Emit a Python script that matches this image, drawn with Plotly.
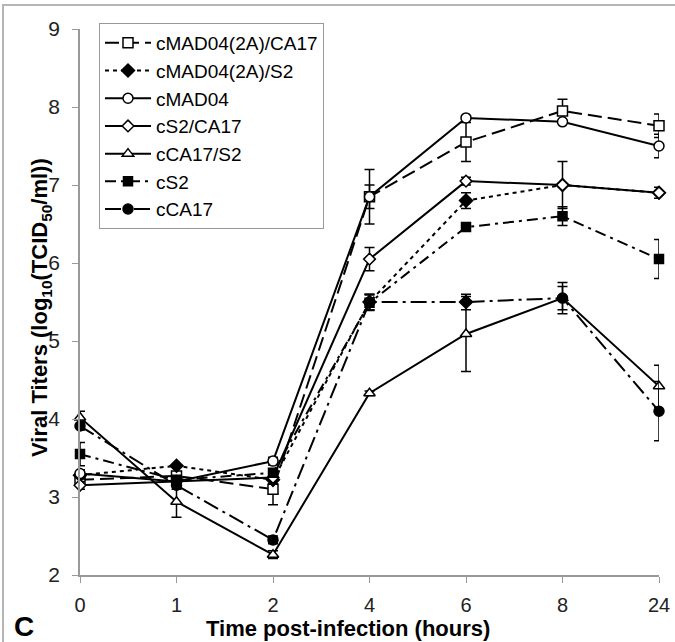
import plotly.graph_objects as go

times = ["0", "1", "2", "4", "6", "8", "24"]

names = ["cMAD04(2A)/CA17", "cMAD04(2A)/S2", "cMAD04", "cS2/CA17", "cCA17/S2", "cS2", "cCA17"]

mad2a_ca17 = [3.22, 3.27, 3.10, 6.85, 7.55, 7.95, 7.76]
mad2a_ca17_err = [0.05, 0.05, 0.20, 0.35, 0.25, 0.15, 0.15]

mad2a_s2 = [3.28, 3.40, 3.22, 5.50, 6.80, 7.00, 6.90]
mad2a_s2_err = [0.05, 0.0, 0.05, 0.10, 0.10, 0.0, 0.0]

mad04 = [3.30, 3.20, 3.46, 6.85, 7.86, 7.81, 7.50]
mad04_err = [0.05, 0.0, 0.05, 0.15, 0.0, 0.0, 0.15]

s2_ca17 = [3.15, 3.20, 3.25, 6.05, 7.05, 7.00, 6.90]
s2_ca17_err = [0.05, 0.0, 0.0, 0.15, 0.05, 0.30, 0.07]

ca17_s2 = [4.02, 2.94, 2.26, 4.33, 5.09, 5.55, 4.42]
ca17_s2_err = [0.08, 0.20, 0.05, 0.03, 0.48, 0.15, 0.27]

s2 = [3.55, 3.22, 3.31, 5.49, 6.46, 6.60, 6.05]
s2_err = [0.15, 0.05, 0.05, 0.10, 0.05, 0.12, 0.25]

ca17 = [3.91, 3.15, 2.45, 5.50, 5.50, 5.55, 4.10]
ca17_err = [0.05, 0.05, 0.05, 0.10, 0.10, 0.20, 0.38]

series = [mad2a_ca17, mad2a_s2, mad04, s2_ca17, ca17_s2, s2, ca17]
errors = [mad2a_ca17_err, mad2a_s2_err, mad04_err, s2_ca17_err, ca17_s2_err, s2_err, ca17_err]

styles = [
    dict(dash="14px,6px", symbol="square", fill="white", size=10),
    dict(dash="4px,4px", symbol="diamond", fill="black", size=10),
    dict(dash="solid", symbol="circle", fill="white", size=10),
    dict(dash="solid", symbol="diamond", fill="white", size=9),
    dict(dash="solid", symbol="triangle-up", fill="white", size=10),
    dict(dash="11px,5px,3px,5px", symbol="square", fill="black", size=9),
    dict(dash="16px,5px,3px,5px", symbol=["circle", "circle", "circle", "circle", "diamond", "circle", "circle"], fill="black", size=10),
]

fig = go.Figure()
for i, (name, ys, es, st) in enumerate(zip(names, series, errors, styles)):
    fig.add_trace(go.Scatter(
        x=times, y=ys, name=name, mode="lines+markers",
        legendgroup="g%d" % i,
        line=dict(color="black", width=2, dash=st["dash"]),
        marker=dict(symbol=st["symbol"], size=st["size"], color=st["fill"],
                    line=dict(color="black", width=1.5)),
        error_y=dict(type="data", array=es, visible=True, color="black", thickness=1.5, width=5),
        cliponaxis=False,
    ))

PW, PH = 579.0, 546.0   # plot area size in px (x 80..659, y 29..575)

def px(xw):
    return (xw - 80) / PW

def py(yw):
    return (575 - yw) / PH

fig.update_layout(
    width=675, height=642,
    margin=dict(l=80, r=16, t=29, b=67, autoexpand=False),
    paper_bgcolor="white", plot_bgcolor="white",
    font=dict(family="Liberation Sans, Arial, sans-serif", color="black", size=18),
    showlegend=True,
    legend=dict(
        x=px(99), y=py(23), xanchor="left", yanchor="top",
        bordercolor="#999999", borderwidth=1, bgcolor="white",
        font=dict(size=19), tracegroupgap=0, itemwidth=46,
    ),
    xaxis=dict(
        type="category", range=[0, 6], showgrid=False, zeroline=False,
        showline=True, linecolor="#999999", linewidth=1.5,
        ticks="outside", ticklen=6, tickcolor="#999999",
        tickfont=dict(size=20, color="#222"), ticklabelstandoff=5,
        automargin=False,
    ),
    yaxis=dict(
        range=[2, 9], dtick=1, showgrid=False, zeroline=False,
        showline=True, linecolor="#999999", linewidth=1.5,
        ticks="outside", ticklen=6, tickcolor="#999999",
        tickfont=dict(size=21, color="#222"), ticklabelstandoff=8,
        automargin=False,
    ),
    shapes=[dict(type="rect", xref="paper", yref="paper",
                 x0=px(3), x1=px(720), y0=py(720), y1=py(5),
                 line=dict(color="#b5b5b5", width=2), layer="below")],
    annotations=[
        dict(text="<b>C</b>", xref="paper", yref="paper", x=px(24), y=py(626),
             xanchor="center", yanchor="middle", showarrow=False,
             font=dict(size=28, color="black")),
        dict(text="<b>Time post-infection (hours)</b>", xref="paper", yref="paper",
             x=px(348), y=py(628), xanchor="center", yanchor="middle", showarrow=False,
             font=dict(size=22, color="black")),
        dict(text="<b>Viral Titers (log<sub>10</sub>(TCID<sub>50</sub>/ml))</b>", xref="paper", yref="paper",
             x=px(41), y=py(308), xanchor="center", yanchor="middle", showarrow=False,
             textangle=-90, font=dict(size=22, color="black")),
    ],
)

fig.write_html(
    "out.html",
    config={"displayModeBar": False},
    post_script="document.body.style.margin='0';document.body.style.overflow='hidden';"
                "document.documentElement.style.overflow='hidden';",
)
